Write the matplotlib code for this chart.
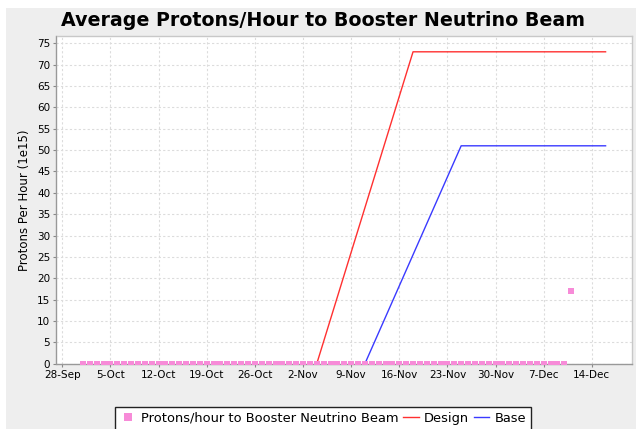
import matplotlib
matplotlib.use('Agg')
from matplotlib import pyplot as plt
from matplotlib import dates as mdates
from matplotlib.patches import Rectangle
from matplotlib.ticker import FuncFormatter, MultipleLocator
import pandas as pd

# daily averages, 1-Oct .. 11-Dec
obs_dates = pd.date_range('2015-10-01', '2015-12-11', freq='D')
obs_values = [0, 0, 0, 0, 0, 0, 0, 0, 0, 0, 0, 0, 0, 0, 0, 0, 0, 0, 0, 0,
              0, 0, 0, 0, 0, 0, 0, 0, 0, 0, 0, 0, 0, 0, 0, 0, 0, 0, 0, 0,
              0, 0, 0, 0, 0, 0, 0, 0, 0, 0, 0, 0, 0, 0, 0, 0, 0, 0, 0, 0,
              0, 0, 0, 0, 0, 0, 0, 0, 0, 0, 0, 17]

design_dates = pd.to_datetime(['2015-11-04', '2015-11-18', '2015-12-16'])
design_values = [0, 73, 73]

base_dates = pd.to_datetime(['2015-11-11', '2015-11-25', '2015-12-16'])
base_values = [0, 51, 51]

W, H = 636, 429
fig = plt.figure(figsize=(W / 100, H / 100), dpi=100, facecolor='white')
fig.patches.append(Rectangle((6 / W, 0), 1, 1 - 8 / H, transform=fig.transFigure,
                             facecolor='#eeeeee', edgecolor='none', zorder=-10))

ax = fig.add_axes([56.5 / W, 1 - 363.7 / H, (631.7 - 56.5) / W, (363.7 - 36) / H])
ax.set_facecolor('white')

ax.plot(design_dates, design_values, color='#ff3030', lw=1.0, label='Design', zorder=3)
ax.plot(base_dates, base_values, color='#3a3aff', lw=1.0, label='Base', zorder=3)
ax.plot(obs_dates, obs_values, ls='none', marker='s', ms=4.5, mew=0,
        color='#f78bd8', label='Protons/hour to Booster Neutrino Beam', zorder=4)

x0 = mdates.date2num(pd.Timestamp('2015-09-28'))
x1 = mdates.date2num(pd.Timestamp('2015-12-14'))
ax.set_xlim(x0 - 0.85, x1 + 5.8)
ax.set_ylim(0, 76.7)

ax.xaxis.set_major_formatter(FuncFormatter(
    lambda v, p: '{}-{}'.format(mdates.num2date(v).day, mdates.num2date(v).strftime('%b'))))
ax.set_xticks([x0 + 7 * i for i in range(12)])
ax.yaxis.set_major_locator(MultipleLocator(5))

ax.grid(True, color='#dcdcdc', lw=0.8, ls=(0, (2, 2)))
ax.set_axisbelow(True)
ax.tick_params(axis='both', labelsize=7.5, length=2.5, width=0.8, color='#888888', pad=2)

for s in ['top', 'right']:
    ax.spines[s].set_color('#c8c8c8')
for s in ['left', 'bottom']:
    ax.spines[s].set_color('#999999')
for s in ax.spines.values():
    s.set_linewidth(1.0)

ax.set_ylabel('Protons Per Hour (1e15)', fontsize=8.5, labelpad=4)
fig.text(323 / W, 1 - 21 / H, 'Average Protons/Hour to Booster Neutrino Beam',
         fontsize=13.7, fontweight='bold', ha='center', va='center')

h, l = ax.get_legend_handles_labels()
order = [2, 0, 1]
leg = fig.legend([h[i] for i in order], [l[i] for i in order], loc='upper center',
                 bbox_to_anchor=(323 / W, 1 - 406.5 / H), ncol=3, fontsize=9.4,
                 fancybox=False, framealpha=1, edgecolor='#222222',
                 handlelength=1.2, handletextpad=0.4, columnspacing=0.35,
                 borderpad=0.4, borderaxespad=0, markerscale=1.3)
leg.get_frame().set_linewidth(1.0)

fig.savefig('out.png', dpi=100, facecolor='white')
